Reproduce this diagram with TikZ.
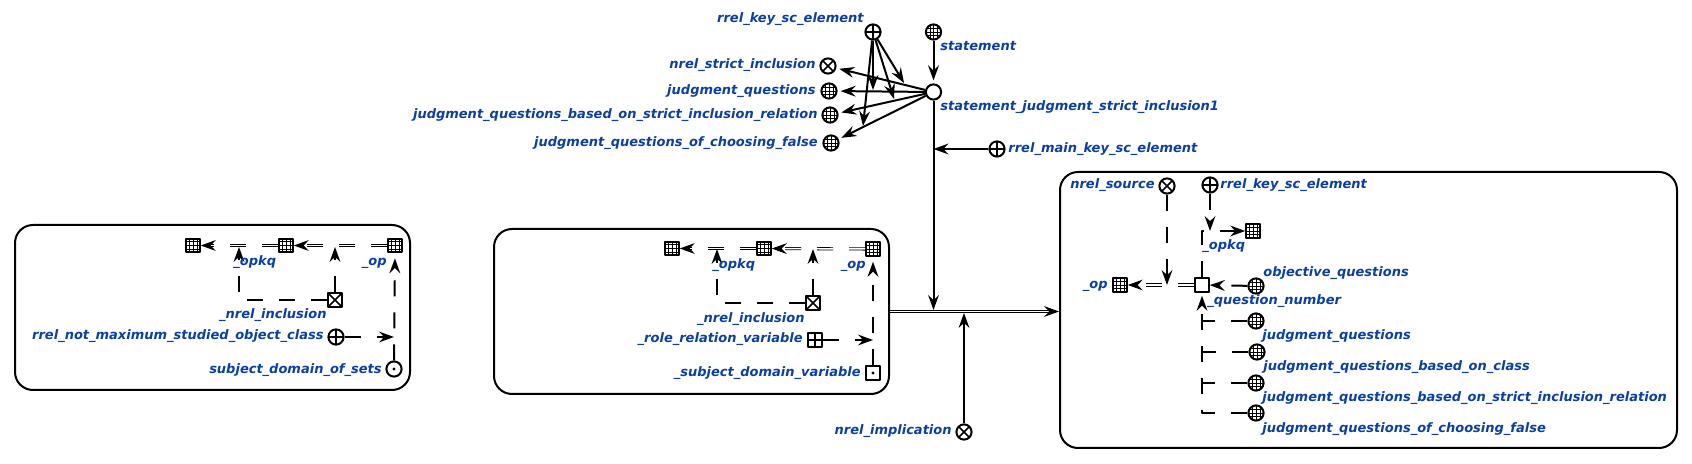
\documentclass[tikz,border=0pt]{standalone}
\usepackage{fontspec}
\setmainfont{DejaVu Sans}
\usetikzlibrary{arrows.meta}
\definecolor{lblblue}{HTML}{0B3FA3}
\begin{document}
\begin{tikzpicture}[x=0.5pt,y=-0.5pt,line join=round,>={Stealth[length=7.5pt,width=5.4pt,inset=2.6pt]}]
	\tikzset{caption style/.style={font=\fontsize{6.5}{8}\selectfont\bfseries\itshape,text=lblblue,inner sep=0pt}}
	\tikzset{cap r/.style={caption style,anchor=base east}}
	\tikzset{cap l/.style={caption style,anchor=base west}}
	\tikzset{box style/.style={draw,line width=1pt,rounded corners=9pt,inner sep=0pt}}
	\tikzset{term circ/.style={circle,draw,line width=1pt,minimum size=7.6pt,inner sep=0pt}}
	\tikzset{term sq/.style={rectangle,draw,line width=1pt,minimum size=6.8pt,inner sep=0pt}}
	\tikzset{with grid/.style={path picture={
		\foreach \t in {-.25,0,.25} {
			\draw[line width=.25pt] ([xshift=\t*7.5pt]path picture bounding box.north)--([xshift=\t*7.5pt]path picture bounding box.south);
			\draw[line width=.25pt] ([yshift=\t*7.5pt]path picture bounding box.west)--([yshift=\t*7.5pt]path picture bounding box.east);
		}}}}
	\tikzset{with plus/.style={path picture={
		\draw[line width=.8pt] (path picture bounding box.north)--(path picture bounding box.south);
		\draw[line width=.8pt] (path picture bounding box.west)--(path picture bounding box.east);}}}
	\tikzset{with cross/.style={path picture={
		\draw[line width=.8pt] (path picture bounding box.north west)--(path picture bounding box.south east);
		\draw[line width=.8pt] (path picture bounding box.north east)--(path picture bounding box.south west);}}}
	\tikzset{with dot/.style={path picture={\fill (path picture bounding box.center) circle (.8pt);}}}
	\tikzset{solid arc/.style={->,line width=1pt}}
	\tikzset{dash arc/.style={line width=1pt,dash pattern=on 8pt off 8pt}}
	\tikzset{dbl arc/.style={line width=.4pt,double,double distance=.75pt,dash pattern=on 8pt off 8pt}}
	\tikzset{tip gap/.style={shorten >=1.5pt}}
	\useasboundingbox (0,0) rectangle (1692,464);

	\node[box style,minimum width=197.5pt,minimum height=82.5pt] (boxl) at (212.5,307.5) {};
	\node[term sq,with grid] (lg1) at (193,245.5) {};
	\node[term sq,with grid] (lg2) at (286,245.5) {};
	\node[term sq,with grid] (lg3) at (395,245.5) {};
	\node[term sq,with cross] (lincl) at (335,300) {};
	\node[term circ,with plus] (lrrel) at (336,337) {};
	\node[term circ,with dot] (lsubj) at (394,369) {};
	\coordinate (lj1) at (239,247);
	\coordinate (lj2) at (335,247);
	\coordinate (lj3) at (394,337);
	\draw[dbl arc,->] (lg3)--(lg2);
	\draw[dbl arc,->] (lg2)--(lg1);
	\draw[dash arc,->] (lincl.north)--(lj2);
	\draw[dash arc,->] (lincl.west)-|(lj1);
	\draw[dash arc,->,shorten >=2.5pt] (lsubj.north)--(lg3.south);
	\draw[dash arc,->] (lrrel)--(lj3);
	\node[cap l] (lt1) at (233,266) {\_opkq};
	\node[cap r] (lt2) at (387,266) {\_op};
	\node[cap r] (lt3) at (327,319) {\_nrel\_inclusion};
	\node[cap r] (lt4) at (324,340) {rrel\_not\_maximum\_studied\_object\_class};
	\node[cap r] (lt5) at (382,373.5) {subject\_domain\_of\_sets};

	\node[box style,minimum width=197.5pt,minimum height=82.5pt] (boxm) at (691.5,311.5) {};
	\node[term sq,with grid] (mg1) at (672,248.5) {};
	\node[term sq,with grid] (mg2) at (764,248.5) {};
	\node[term sq,with grid] (mg3) at (873,249) {};
	\node[term sq,with cross] (mincl) at (813,303) {};
	\node[term sq,with plus] (mrole) at (815,340) {};
	\node[term sq,with dot] (msubj) at (873,373) {};
	\coordinate (mj1) at (717,249);
	\coordinate (mj2) at (813,249);
	\coordinate (mj3) at (873,340);
	\draw[dbl arc,->] (mg3)--(mg2);
	\draw[dbl arc,->] (mg2)--(mg1);
	\draw[dash arc,->] (mincl.north)--(mj2);
	\draw[dash arc,->] (mincl.west)-|(mj1);
	\draw[dash arc,->,shorten >=2.5pt] (msubj.north)--(mg3.south);
	\draw[dash arc,->] (mrole)--(mj3);
	\node[cap l] (mt1) at (712,269) {\_opkq};
	\node[cap r] (mt2) at (866,269) {\_op};
	\node[cap r] (mt3) at (805,323) {\_nrel\_inclusion};
	\node[cap r] (mt4) at (803,343) {\_role\_relation\_variable};
	\node[cap r] (mt5) at (861,376.5) {\_subject\_domain\_variable};

	\node[term circ,with plus] (tkey) at (873,32) {};
	\node[term circ,with grid] (tstat) at (933.5,32) {};
	\node[term circ] (tjudg) at (933.5,92) {};
	\node[term circ,with cross] (tstrict) at (828,66) {};
	\node[term circ,with grid] (tq1) at (829,91) {};
	\node[term circ,with grid] (tq2) at (830,115) {};
	\node[term circ,with grid] (tq3) at (831,143) {};
	\node[term circ,with plus] (tmain) at (997,149) {};
	\node[term circ,with cross] (timpl) at (964,432) {};
	\coordinate (tj1) at (904,83);
	\coordinate (tj2) at (873,90);
	\coordinate (tj3) at (894,99);
	\coordinate (tj4) at (863,126);
	\coordinate (tj5) at (933.5,149);
	\coordinate (tj6) at (933.5,310);
	\coordinate (tj7) at (964,313);
	\draw[solid arc,tip gap] (tstat)--(tjudg);
	\draw[solid arc,tip gap] (tjudg)--(tstrict);
	\draw[solid arc,tip gap] (tjudg)--(tq1);
	\draw[solid arc,tip gap] (tjudg)--(tq2);
	\draw[solid arc,tip gap] (tjudg)--(tq3);
	\draw[solid arc] (tkey)--(tj1);
	\draw[solid arc] (tkey)--(tj2);
	\draw[solid arc] (tkey)--(tj3);
	\draw[solid arc] (tkey)--(tj4);
	\draw[solid arc] (tjudg)--(tj6);
	\draw[solid arc] (tmain)--(tj5);
	\draw[solid arc] (timpl)--(tj7);
	\node[cap r] (tt1) at (864,22.5) {rrel\_key\_sc\_element};
	\node[cap r] (tt2) at (816,69) {nrel\_strict\_inclusion};
	\node[cap r] (tt3) at (816,95) {judgment\_questions};
	\node[cap r] (tt4) at (818,119) {judgment\_questions\_based\_on\_strict\_inclusion\_relation};
	\node[cap r] (tt5) at (818,147) {judgment\_questions\_of\_choosing\_false};
	\node[cap l] (tt6) at (940,50.5) {statement};
	\node[cap l] (tt7) at (940,110.5) {statement\_judgment\_strict\_inclusion1};
	\node[cap l] (tt8) at (1008,153) {rrel\_main\_key\_sc\_element};
	\node[cap r] (tt9) at (952,435) {nrel\_implication};

	\node[box style,minimum width=308.5pt,minimum height=138pt] (boxr) at (1368.5,310) {};
	\draw[line width=.4pt,double,double distance=.75pt,->] (boxm.east)--(boxm.east-|boxr.west);
	\node[term circ,with cross] (rsrc) at (1167,186) {};
	\node[term circ,with plus] (rkey) at (1210,185) {};
	\node[term sq,with grid] (rg1) at (1253,231) {};
	\node[term sq,with grid] (rop) at (1120,285) {};
	\node[term sq] (rnum) at (1202,285) {};
	\node[term circ,with grid] (robj) at (1256,286) {};
	\node[term circ,with grid] (rq1) at (1256,321) {};
	\node[term circ,with grid] (rq2) at (1257,352) {};
	\node[term circ,with grid] (rq3) at (1256,383) {};
	\node[term circ,with grid] (rq4) at (1256,413) {};
	\coordinate (rj1) at (1167,285);
	\coordinate (rj2) at (1210,231);
	\coordinate (rj3) at (1202,321);
	\coordinate (rj4) at (1202,352);
	\coordinate (rj5) at (1202,383);
	\draw[dbl arc,->] (rnum)--(rop);
	\draw[dash arc,->] (rsrc)--(rj1);
	\draw[dash arc,->] (rnum.north)|-(rg1.west);
	\draw[dash arc,->] (rkey)--(rj2);
	\draw[dash arc,->] (robj)--(rnum);
	\draw[dash arc,->,shorten >=1.5pt] (rq4.west)-|(rnum.south);
	\draw[dash arc] (rq1.west)--(rj3);
	\draw[dash arc] (rq2.west)--(rj4);
	\draw[dash arc] (rq3.west)--(rj5);
	\node[cap r] (rt1) at (1155,189) {nrel\_source};
	\node[cap l] (rt2) at (1220,189) {rrel\_key\_sc\_element};
	\node[cap l] (rt3) at (1202,250) {\_opkq};
	\node[cap r] (rt4) at (1108,289) {\_op};
	\node[cap l] (rt5) at (1263,277) {objective\_questions};
	\node[cap l] (rt6) at (1207,305) {\_question\_number};
	\node[cap l] (rt7) at (1262,340) {judgment\_questions};
	\node[cap l] (rt8) at (1263,371) {judgment\_questions\_based\_on\_class};
	\node[cap l] (rt9) at (1262,402) {judgment\_questions\_based\_on\_strict\_inclusion\_relation};
	\node[cap l] (rt10) at (1262,433) {judgment\_questions\_of\_choosing\_false};
\end{tikzpicture}
\end{document}
